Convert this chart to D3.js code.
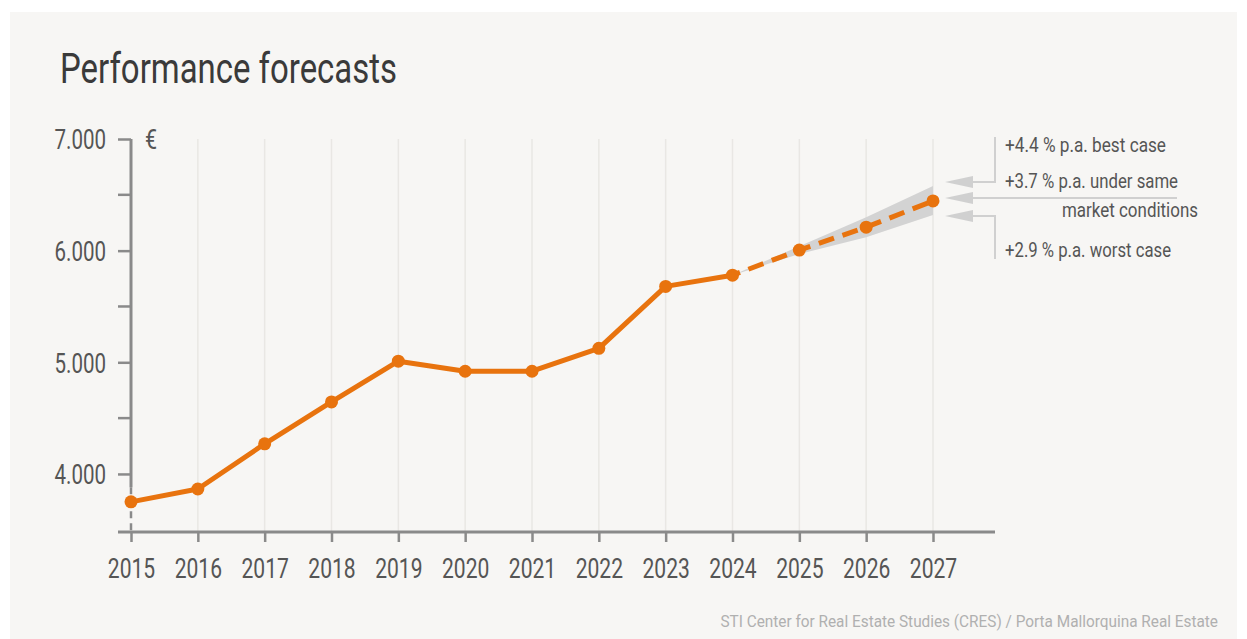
<!DOCTYPE html>
<html><head><meta charset="utf-8">
<script src="https://cdn.jsdelivr.net/npm/d3@7"></script>
<style>
html,body{margin:0;padding:0;background:#fff;}
svg{display:block;}
text{font-family:"Roboto","DejaVu Sans",sans-serif;}
</style></head>
<body>
<svg id="chart" width="1247" height="639"></svg>
<script>
const years = [2015,2016,2017,2018,2019,2020,2021,2022,2023,2024,2025,2026,2027];
const actual = [3750,3865,4270,4645,5010,4920,4920,5125,5680,5780];
const forecast = [5780,6005,6210,6445];
const forecastYears = [2024,2025,2026,2027];
const bestCase = [5780,6040,6300,6580];
const worstCase = [5780,5970,6120,6320];
const yTicks = [4000,5000,6000,7000];
const yMinorTicks = [4500,5500,6500];
const notes = ["+4.4 % p.a. best case","+3.7 % p.a. under same","market conditions","+2.9 % p.a. worst case"];
const title = "Performance forecasts";
const source = "STI Center for Real Estate Studies (CRES) / Porta Mallorquina Real Estate";

const svg = d3.select("#chart");
const orange = "#e8730e";
const grey = "#8a8a8a";
svg.append("rect").attr("x",10).attr("y",12).attr("width",1227).attr("height",627).attr("fill","#f7f6f4");

// condense text horizontally to mimic a condensed face
function condense(sel, k){
  sel.each(function(){
    const w = this.getComputedTextLength();
    d3.select(this).attr("textLength", w*k).attr("lengthAdjust","spacingAndGlyphs");
  });
}

const x = d3.scaleLinear().domain([2015,2027]).range([131,933]);
const y = d3.scaleLinear().domain([3480,7000]).range([532,139]);

// gridlines
svg.append("g").selectAll("line").data(years.slice(1)).join("line")
  .attr("x1",d=>x(d)).attr("x2",d=>x(d)).attr("y1",y(7000)).attr("y2",y(3480))
  .attr("stroke","#e9e7e4").attr("stroke-width",1.5);

// x axis
const xAxis = d3.axisBottom(x).tickValues(years).tickFormat(d3.format("d")).tickSize(10).tickPadding(17);
const gx = svg.append("g").attr("transform",`translate(0,${y(3480)})`).call(xAxis);
gx.select(".domain").remove();
gx.append("line").attr("x1",118).attr("x2",995).attr("y1",0).attr("y2",0).attr("stroke",grey).attr("stroke-width",3);
gx.selectAll(".tick line").attr("stroke",grey).attr("stroke-width",2.5);
gx.selectAll(".tick text").attr("fill","#555").attr("font-size",27).attr("font-family","Roboto, sans-serif").attr("dy","0.71em")
  .call(condense,0.78);

// y axis
const yAxis = d3.axisLeft(y).tickValues(yTicks).tickFormat(d=>d3.format(",")(d).replace(",", ".")).tickSize(13).tickPadding(12);
const gy = svg.append("g").attr("transform",`translate(${x(2015)},0)`).call(yAxis);
gy.select(".domain").remove();
gy.append("line").attr("x1",0).attr("x2",0).attr("y1",y(7000)).attr("y2",y(3880)).attr("stroke",grey).attr("stroke-width",3);
gy.append("line").attr("x1",0).attr("x2",0).attr("y1",y(3880)).attr("y2",y(3480)).attr("stroke",grey).attr("stroke-width",2.5).attr("stroke-dasharray","7,5");
gy.selectAll(".tick line").attr("stroke",grey).attr("stroke-width",2.5);
gy.selectAll(".tick text").attr("fill","#555").attr("font-size",27).attr("font-family","Roboto, sans-serif").attr("dy","0.36em")
  .call(condense,0.76);
gy.append("g").selectAll("line").data(yMinorTicks).join("line")
  .attr("x1",-13).attr("x2",0).attr("y1",d=>y(d)).attr("y2",d=>y(d)).attr("stroke",grey).attr("stroke-width",2.5);
gy.append("text").attr("x",14).attr("y",y(7000)+10).attr("text-anchor","start").attr("fill","#555").attr("font-size",27).attr("font-family","Roboto, sans-serif").text("€")
  .call(condense,0.8);

// band
const band = d3.area().x((d,i)=>x(forecastYears[i])).y0((d,i)=>y(worstCase[i])).y1((d,i)=>y(bestCase[i]));
svg.append("path").datum(bestCase).attr("d",band).attr("fill","#d3d3d3");

// lines
const line = d3.line().x(d=>x(d[0])).y(d=>y(d[1]));
const actPts = actual.map((v,i)=>[years[i],v]);
svg.append("path").datum(actPts).attr("d",line).attr("fill","none").attr("stroke",orange).attr("stroke-width",5).attr("stroke-linejoin","round");
const fcPts = forecast.map((v,i)=>[forecastYears[i],v]);
svg.append("path").datum(fcPts).attr("d",line).attr("fill","none").attr("stroke",orange).attr("stroke-width",5).attr("stroke-dasharray","16,9").attr("stroke-dashoffset",8);
svg.append("g").selectAll("circle").data(actPts.concat(fcPts.slice(1))).join("circle")
  .attr("cx",d=>x(d[0])).attr("cy",d=>y(d[1])).attr("r",6.5).attr("fill",orange);

// annotations
const ax = x(2027)+12;
const ann = svg.append("g");
const arrowYs = [y(6580)-4, y(6445)-3, y(6320)+1];
arrowYs.forEach(ay=>{
  ann.append("path").attr("d",`M${ax},${ay} L${ax+28},${ay-6} L${ax+28},${ay+6} Z`).attr("fill","#d0d0d0");
});
ann.append("path").attr("d",`M${ax+26},${arrowYs[0]} H995 V137`).attr("fill","none").attr("stroke","#d0d0d0").attr("stroke-width",2);
ann.append("path").attr("d",`M${ax+26},${arrowYs[1]} H1177`).attr("fill","none").attr("stroke","#d0d0d0").attr("stroke-width",2);
ann.append("path").attr("d",`M${ax+26},${arrowYs[2]} H995 V259`).attr("fill","none").attr("stroke","#d0d0d0").attr("stroke-width",2);
const tx = 1005;
const noteT = [
  ann.append("text").attr("x",tx).attr("y",152).text(notes[0]),
  ann.append("text").attr("x",tx).attr("y",188).text(notes[1]),
  ann.append("text").attr("x",1198).attr("y",217).attr("text-anchor","end").text(notes[2]),
  ann.append("text").attr("x",tx).attr("y",257).text(notes[3])
];
const noteW = [161,173,136,166];
noteT.forEach((t,i)=>t.attr("fill","#555").attr("font-size",20).attr("textLength",noteW[i]).attr("lengthAdjust","spacingAndGlyphs"));

// title & source
svg.append("text").attr("x",60).attr("y",83).attr("fill","#3a3a3a").attr("font-size",42).text(title)
  .attr("textLength",337).attr("lengthAdjust","spacingAndGlyphs");
const src = svg.append("text").attr("transform","translate(1218,627)").attr("x",0).attr("y",0)
  .attr("text-anchor","end").attr("fill","#b0b0b0").attr("font-size",17).text(source);
const sw = src.node().getComputedTextLength();
src.attr("transform",`translate(1218,627) scale(${498/sw},1)`);
</script>
</body></html>
